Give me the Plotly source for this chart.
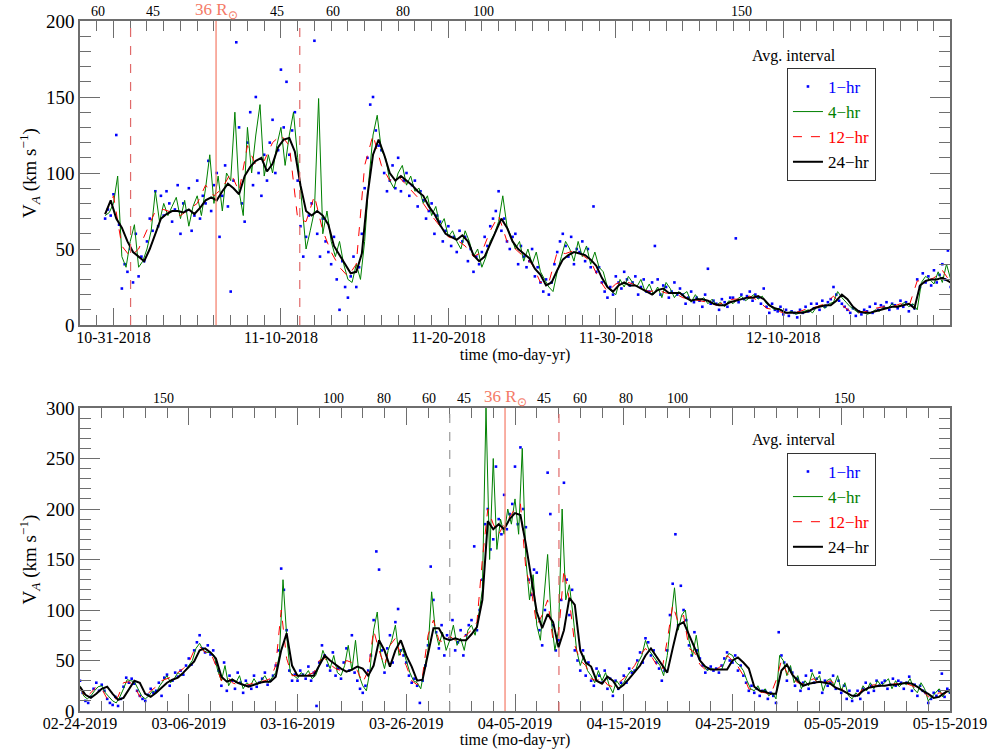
import pandas as pd
import plotly.graph_objects as go
from plotly.subplots import make_subplots

# ---------------- data: top panel (Oct-Dec 2018) ----------------
TOP_START = "2018-10-30 12:00"
TOP_1HR_STEP, TOP_4HR_STEP, TOP_12HR_STEP, TOP_24HR_STEP = 4, 6, 12, 8

top_1hr = [
    70, 76, 72,
    86, 125, 66, 24, 40, 35,
    50, 28, 60, 32, 45, 42,
    55, 70, 62, 88, 65, 85,
    72, 88, 80, 68, 76, 92,
    60, 80, 75, 90, 62, 72,
    95, 70, 85, 80, 108, 75,
    92, 100, 58, 85, 105, 78,
    22, 95, 186, 130, 80, 68,
    120, 140, 92, 150, 100, 85,
    112, 95, 120, 135, 100, 115,
    168, 130, 160, 112, 128, 140,
    95, 65, 45, 58, 72, 80,
    187, 60, 45, 70, 55, 48,
    40, 58, 30, 10, 42, 25,
    18, 32, 45, 25, 38, 60,
    90, 110, 145, 150, 128, 118,
    115, 100, 88, 95, 105, 90,
    110, 88, 95, 100, 85, 92,
    95, 78, 88, 82, 70, 75,
    80, 60, 72, 68, 55, 62,
    65, 52, 58, 48, 62, 55,
    58, 42, 50, 35, 45, 40,
    48, 58, 52, 65, 70, 75,
    88, 62, 70, 55, 50, 58,
    60, 40, 52, 45, 38, 42,
    50, 32, 38, 28, 22, 30,
    20, 28, 40, 48, 55, 60,
    52, 45, 58, 40, 50, 48,
    55, 42, 50, 38, 78, 35,
    38, 28, 22, 18, 25, 20,
    32, 28, 24, 35, 30, 26,
    28, 32, 20, 25, 30, 22,
    22, 28, 52, 30, 20, 26,
    25, 18, 22, 28, 20, 24,
    20, 14, 18, 22, 15, 18,
    16, 12, 20, 37, 14, 16,
    14, 10, 17, 15, 12, 18,
    18, 57, 15, 20, 17, 19,
    22, 16, 20, 18, 14, 24,
    12, 8, 14, 10, 9, 12,
    7, 10, 6, 9, 8, 5,
    10, 8, 12, 9, 14, 11,
    14, 10, 16, 12, 15, 17,
    25, 20, 16, 14, 12, 10,
    8, 11, 6, 9, 7, 10,
    9, 12, 8, 14, 10, 13,
    12, 15, 10, 14, 13, 11,
    16, 12, 15, 9, 13, 11,
    30, 25, 34, 28, 32, 26,
    36, 28, 33, 40, 30, 49,
    25,
]

top_4hr = [
    72, 74,
    80, 98, 45, 38,
    55, 66, 38, 42,
    50, 62, 88, 68,
    80, 72, 78, 84,
    70, 82, 65, 78,
    85, 72, 90, 112,
    80, 98, 75, 100,
    95, 140, 88, 72,
    130, 100, 125, 145,
    98, 112, 100, 118,
    130, 105, 125, 140,
    110, 80, 50, 62,
    75, 149, 60, 75,
    55, 45, 55, 40,
    30, 28, 40, 30,
    55, 95, 125, 138,
    115, 110, 95, 90,
    100, 105, 92, 98,
    88, 90, 80, 85,
    72, 78, 65, 70,
    58, 62, 55, 50,
    62, 55, 45, 50,
    38, 45, 55, 60,
    68, 85, 65, 58,
    50, 55, 42, 50,
    40, 48, 35, 30,
    25, 22, 35, 45,
    55, 50, 42, 55,
    45, 52, 40, 48,
    38, 35, 25, 22,
    20, 30, 25, 32,
    28, 25, 30, 22,
    27, 20, 25, 18,
    28, 24, 18, 22,
    20, 22, 15, 20,
    16, 18, 14, 17,
    13, 15, 12, 16,
    14, 17, 19, 16,
    18, 20, 17, 19,
    14, 12, 10, 11,
    9, 8, 9, 7,
    8, 9, 10, 8,
    12, 13, 11, 14,
    15, 22, 18, 15,
    12, 10, 8, 9,
    7, 8, 10, 9,
    12, 11, 14, 12,
    13, 15, 12, 14,
    10, 28, 32, 30,
    27, 35, 28, 40,
    30,
]

top_12hr = [
    73,
    85, 52, 45, 50, 62, 75, 76, 74, 72, 76, 80, 92, 85, 90, 100, 88,
    118, 105, 108, 120, 125, 118, 70, 68, 85, 62, 48, 38, 32, 40,
    105, 125, 105, 95, 98, 92, 86, 80, 72, 65, 58, 56, 52, 45, 48, 62,
    72, 55, 50, 45, 40, 28, 28, 48, 47, 49, 46, 42, 30, 22, 27, 29,
    27, 24, 22, 23, 21, 21, 18, 17, 16, 15, 13, 15, 17, 17, 19, 16,
    11, 10, 8, 8, 9, 11, 12, 14, 19, 13, 9, 8, 9, 11, 12, 12,
    14, 12, 29, 29, 31, 36,
    28,
]

top_24hr = [
    73, 82, 70, 64, 55, 48, 45, 42, 50, 60,
    70, 73, 75, 75, 74, 76, 73, 77, 82, 84,
    82, 88, 93, 90, 86, 98, 104, 108, 110, 101,
    106, 117, 122, 123, 114, 92, 75, 72, 75, 72,
    66, 52, 46, 40, 34, 35, 47, 85, 112, 122,
    112, 100, 95, 98, 95, 92, 88, 85, 78, 73,
    66, 60, 58, 56, 59, 55, 46, 42, 45, 53,
    61, 70, 64, 55, 50, 47, 44, 37, 33, 26,
    28, 36, 43, 46, 48, 47, 46, 43, 39, 31,
    25, 22, 26, 28, 26, 26, 24, 22, 20, 23,
    24, 21, 21, 21, 18, 16, 17, 17, 16, 14,
    13, 13, 15, 16, 17, 18, 18, 19, 17, 13,
    11, 10, 8, 8, 8, 8, 9, 11, 12, 13,
    13, 16, 20, 17, 12, 9, 8, 8, 9, 10,
    11, 12, 12, 13, 14, 11, 26, 29, 30, 30,
    31, 29, 27,
]

# ---------------- data: bottom panel (Feb-May 2019) ----------------
BOT_START = "2019-02-24 00:00"
BOT_1HR_STEP, BOT_4HR_STEP, BOT_12HR_STEP, BOT_24HR_STEP = 6, 8, 12, 12

bot_1hr = [
    30, 18, 10, 8, 14, 22, 28, 20, 26, 20, 12, 8, 6, 14, 5, 12, 24, 33, 28, 32,
    27, 20, 15, 12, 10, 16, 22, 18, 20, 28, 15, 33, 36, 25, 30, 38, 34, 40, 36, 45,
    52, 46, 60, 68, 75, 62, 58, 65, 56, 60, 48, 40, 25, 48, 20, 35, 30, 22, 38, 28,
    18, 30, 25, 22, 35, 24, 28, 32, 38, 26, 30, 35, 45, 60, 141, 120, 80, 40, 30, 36,
    30, 40, 36, 32, 44, 30, 38, 5, 48, 65, 55, 45, 40, 58, 35, 42, 32, 48, 62, 40,
    75, 38, 30, 22, 18, 25, 40, 55, 90, 158, 140, 60, 38, 62, 75, 48, 88, 101, 60, 55,
    48, 35, 28, 32, 25, 8, 30, 45, 65, 143, 110, 78, 62, 85, 55, 75, 72, 90, 60, 68,
    80, 55, 75, 85, 90, 163, 80, 100, 130, 185, 200, 160, 170, 242, 190, 175,
    214, 180, 195, 205, 242, 185, 261, 200, 182, 130, 115, 140, 137, 80, 65, 100,
    236, 195, 85, 60, 70, 110, 226, 130, 95, 120, 60, 50, 40, 60, 35, 48,
    30, 25, 42, 35, 28, 40, 22, 32, 15, 30, 22, 28, 35, 28, 42, 38, 40, 50, 58, 48,
    72, 68, 55, 60, 48, 42, 30, 40, 60, 95, 126, 175, 85, 124, 100, 90, 65, 55, 78, 60,
    52, 45, 38, 42, 44, 40, 42, 38, 45, 52, 58, 50, 48, 55, 40, 45, 35, 28, 20, 25,
    18, 22, 15, 20, 20, 12, 18, 15, 8, 78, 55, 48, 30, 42, 38, 25,
    32, 20, 28, 35, 22, 40, 28, 32, 38, 18, 30, 25, 28, 35, 22, 30, 18, 25, 12, 20,
    10, 15, 20, 12, 22, 28, 18, 25, 20, 30, 25, 28, 30, 22, 26, 32, 25, 30, 28, 22,
    28, 34, 20, 26, 15, 25, 20, 18, 8, 12, 18, 15, 20, 37, 14, 22,
    18,
]

bot_4hr = [
    25, 15, 12, 15, 20, 24, 25, 18, 14, 10, 8, 14, 22, 31, 30,
    29, 22, 15, 12, 15, 20, 18, 25, 30, 35, 28, 32, 38, 35, 40,
    45, 50, 62, 67, 60, 58, 58, 55, 40, 30, 45, 25, 32, 28, 35,
    22, 28, 25, 32, 26, 30, 35, 28, 33, 38, 55, 130, 75, 38, 35,
    32, 38, 35, 40, 32, 35, 45, 60, 50, 42, 55, 38, 35, 45, 65,
    40, 70, 35, 25, 20, 40, 80, 98, 55, 42, 60, 70, 85, 55, 62,
    50, 38, 30, 28, 22, 40, 60, 118, 80, 65, 78, 60, 70, 85, 65,
    72, 60, 80, 85, 75, 95, 120, 300, 150, 250, 160, 190, 175, 200, 185,
    210, 175, 260, 150, 110, 135, 85, 70, 110, 155, 90, 60, 80, 200, 110,
    125, 95, 60, 45, 55, 40, 35, 28, 40, 30, 38, 25, 18, 30, 25,
    28, 35, 40, 38, 48, 55, 70, 60, 55, 50, 45, 35, 55, 90, 122,
    80, 95, 100, 70, 55, 75, 50, 45, 40, 42, 41, 41, 41, 50, 57,
    55, 48, 45, 40, 30, 22, 20, 25, 18, 22, 15, 18, 12, 55, 50,
    35, 45, 28, 35, 22, 30, 25, 38, 30, 35, 20, 30, 32, 25, 35,
    20, 28, 15, 12, 18, 15, 25, 20, 28, 22, 30, 25, 28, 32, 22,
    30, 24, 28, 26, 32, 22, 18, 28, 22, 10, 14, 18, 22, 14, 20,
    18,
]

bot_12hr = [
    24, 13, 18, 24, 22, 12, 10, 14, 28, 29,
    25, 14, 14, 20, 24, 30, 32, 34, 38, 42, 48, 60, 64, 58, 58, 45, 30, 35, 28, 26,
    25, 26, 28, 29, 30, 32, 45, 100, 52, 35, 35, 36, 36, 38, 50, 52, 46, 42, 40, 50,
    48, 40, 28, 40, 80, 60, 45, 65, 72, 55, 45, 30, 26, 35, 75, 90, 70, 68, 74, 70,
    72, 75,
    80, 88, 150, 200, 185, 175, 185, 192, 200, 205, 140, 120, 85, 95, 110, 70, 75, 140,
    110, 65, 50, 45, 32, 30, 33, 26, 24, 28, 32, 38, 45, 55, 62, 55, 46, 40, 70, 105,
    88, 95, 62, 58, 46, 41, 41, 41, 45, 55, 50, 44, 35, 22, 20, 19, 18, 16, 30, 50,
    38, 32,
    28, 27, 30, 32, 26, 28, 30, 26, 22, 18, 15, 16, 22, 24, 26, 25, 27, 26, 27, 28,
    27, 25, 22, 20, 14, 15, 18, 17,
    20,
]

bot_24hr = [
    24, 16, 13, 17, 22, 24, 17, 11, 13, 22,
    30, 28, 17, 14, 18, 23, 28, 31, 33, 38,
    43, 49, 60, 62, 58, 52, 34, 29, 31, 28,
    26, 24, 26, 28, 29, 29, 34, 60, 77, 45,
    35, 35, 35, 35, 45, 55, 50, 46, 42, 39,
    41, 44, 42, 35, 45, 70, 60, 44, 60, 70,
    55, 44, 30, 31, 55, 82, 82, 72, 70, 72,
    70, 70, 76, 83, 110, 188, 180, 185, 180, 190,
    196, 194, 165, 130, 98, 82, 96, 88, 63, 80,
    112, 105, 60, 48, 44, 30, 27, 34, 30, 22,
    26, 32, 38, 45, 55, 62, 54, 46, 38, 62,
    85, 88, 76, 63, 50, 44, 41, 41, 41, 41,
    50, 53, 48, 42, 24, 20, 19, 17, 17, 40,
    46, 36, 30, 25, 27, 28, 29, 28, 27, 23,
    21, 18, 15, 15, 20, 23, 24, 25, 25, 26,
    26, 27, 28, 27, 24, 20, 17, 13, 14, 18,
    21,
]

# distance (R_sun) labels on the upper axes
top_dist_text = ["60", "45", "36", "45", "60", "80", "100", "150"]
top_dist_time = ["2018-10-30 02:00", "2018-11-02 08:00", "2018-11-06 03:00", "2018-11-09 19:00",
                 "2018-11-13 03:00", "2018-11-17 07:00", "2018-11-22 03:00", "2018-12-07 12:00"]
bot_dist_text = ["150", "100", "80", "60", "45", "36", "45", "60", "80", "100", "150"]
bot_dist_time = ["2019-03-03 17:00", "2019-03-19 07:00", "2019-03-23 23:00", "2019-03-28 02:00",
                 "2019-03-31 07:00", "2019-04-04 02:00", "2019-04-07 16:00", "2019-04-11 00:00",
                 "2019-04-15 05:00", "2019-04-19 22:00", "2019-05-05 08:00"]

# vertical markers: (time, kind)
top_markers = [("2018-11-01 00:30", "dash_red"), ("2018-11-06 03:00", "peri"), ("2018-11-11 03:00", "dash_red")]
bot_markers = [("2019-03-30 00:00", "dash_gray"), ("2019-04-04 02:00", "peri"), ("2019-04-09 01:00", "dash_red")]

TOP_RANGE = ["2018-10-29 00:00", "2018-12-19 23:00"]
BOT_RANGE = ["2019-02-24 00:00", "2019-05-15 00:00"]

# ---------------- figure ----------------
FONT = "Liberation Serif"
PERI_COLOR = "#f47a66"
AX_COLOR = "#6e6e6e"


def times(start, n, hours):
    return pd.date_range(start, periods=n, freq=f"{hours}h")


fig = make_subplots(rows=2, cols=1, vertical_spacing=0.12)
fig.update_layout(yaxis=dict(domain=[0.5594, 1.0]), yaxis2=dict(domain=[0.0, 0.4391]))

names = [
    "<span style='color:#0000ff'>1\u2212hr</span>",
    "<span style='color:#008000'>4\u2212hr</span>",
    "<span style='color:#ff0000'>12\u2212hr</span>",
    "<span style='color:#000000'>24\u2212hr</span>",
]

panels = [
    (1, "legend", TOP_START, [(top_1hr, TOP_1HR_STEP), (top_4hr, TOP_4HR_STEP),
                              (top_12hr, TOP_12HR_STEP), (top_24hr, TOP_24HR_STEP)]),
    (2, "legend2", BOT_START, [(bot_1hr, BOT_1HR_STEP), (bot_4hr, BOT_4HR_STEP),
                               (bot_12hr, BOT_12HR_STEP), (bot_24hr, BOT_24HR_STEP)]),
]

for row, leg, start, series in panels:
    (v1, s1), (v4, s4), (v12, s12), (v24, s24) = series
    fig.add_trace(go.Scatter(x=times(start, len(v1), s1), y=v1, mode="markers",
                             marker=dict(color="#0000ff", size=2.6, symbol="square"),
                             name=names[0], legend=leg), row=row, col=1)
    fig.add_trace(go.Scatter(x=times(start, len(v4), s4), y=v4, mode="lines",
                             line=dict(color="#008000", width=1),
                             name=names[1], legend=leg), row=row, col=1)
    fig.add_trace(go.Scatter(x=times(start, len(v12), s12), y=v12, mode="lines",
                             line=dict(color="#ff0000", width=1, dash="dash"),
                             name=names[2], legend=leg), row=row, col=1)
    fig.add_trace(go.Scatter(x=times(start, len(v24), s24), y=v24, mode="lines",
                             line=dict(color="#000000", width=2),
                             name=names[3], legend=leg), row=row, col=1)

# vertical marker lines
for xref, yref, markers in [("x", "y domain", top_markers), ("x2", "y2 domain", bot_markers)]:
    for t, kind in markers:
        if kind == "peri":
            ln = dict(color=PERI_COLOR, width=1.2)
        elif kind == "dash_red":
            ln = dict(color="#e06a6a", width=1.2, dash="dash")
        else:
            ln = dict(color="#9a9a9a", width=1.2, dash="dash")
        fig.add_shape(type="line", xref=xref, yref=yref, x0=t, x1=t, y0=0, y1=1, line=ln)

# distance labels along the top of each panel
for xref, yref, texts, ts in [("x", "y domain", top_dist_text, top_dist_time),
                               ("x2", "y2 domain", bot_dist_text, bot_dist_time)]:
    for txt, t in zip(texts, ts):
        if txt == "36":
            fig.add_annotation(x=t, y=1, xref=xref, yref=yref, yanchor="bottom", yshift=-3,
                               text="36 R<sub>\u2299</sub>", showarrow=False,
                               font=dict(family=FONT, size=17, color=PERI_COLOR))
        else:
            fig.add_annotation(x=t, y=1, xref=xref, yref=yref, yanchor="bottom", yshift=0,
                               text=txt, showarrow=False,
                               font=dict(family=FONT, size=14, color="black"))

# legend headers
for yv in [0.934, 0.377]:
    fig.add_annotation(x=0.871, y=yv, xref="paper", yref="paper", text="Avg. interval",
                       showarrow=False, yanchor="bottom", font=dict(family=FONT, size=16, color="black"))

axis_common = dict(showline=True, linecolor=AX_COLOR, linewidth=1.5, mirror="ticks",
                   ticks="inside", tickcolor=AX_COLOR, showgrid=False, zeroline=False,
                   automargin=False)

fig.update_xaxes(**axis_common, row=1, col=1, type="date", range=TOP_RANGE,
                 tick0="2018-10-31", dtick=10 * 86400000, ticklen=17, tickwidth=1.3,
                 minor=dict(dtick=86400000, ticklen=10, ticks="inside", tickcolor=AX_COLOR, showgrid=False),
                 tickformat="%m-%d-%Y", tickfont=dict(family=FONT, size=16, color="black"),
                 ticklabelstandoff=-3,
                 title=dict(text="time (mo-day-yr)", font=dict(family=FONT, size=16, color="black"), standoff=0))
fig.update_xaxes(**axis_common, row=2, col=1, type="date", range=BOT_RANGE,
                 tick0="2019-02-24", dtick=10 * 86400000, ticklen=17, tickwidth=1.3,
                 minor=dict(dtick=2 * 86400000, ticklen=10, ticks="inside", tickcolor=AX_COLOR, showgrid=False),
                 tickformat="%m-%d-%Y", tickfont=dict(family=FONT, size=16, color="black"),
                 ticklabelstandoff=-3,
                 title=dict(text="time (mo-day-yr)", font=dict(family=FONT, size=16, color="black"), standoff=0))

ytitle = "V<sub><i>A</i></sub> (km s<sup>\u22121</sup>)"
fig.update_yaxes(**axis_common, row=1, col=1, range=[0, 200], dtick=50, ticklen=20, tickwidth=1.3,
                 minor=dict(dtick=10, ticklen=11, ticks="inside", tickcolor=AX_COLOR),
                 tickfont=dict(family=FONT, size=19, color="black"),
                 title=dict(text=ytitle, font=dict(family=FONT, size=19, color="black"), standoff=4))
fig.update_yaxes(**axis_common, row=2, col=1, range=[0, 300], dtick=50, ticklen=20, tickwidth=1.3,
                 minor=dict(dtick=10, ticklen=11, ticks="inside", tickcolor=AX_COLOR),
                 tickfont=dict(family=FONT, size=19, color="black"),
                 title=dict(text=ytitle, font=dict(family=FONT, size=19, color="black"), standoff=4))

legend_common = dict(xanchor="left", yanchor="top", bgcolor="white", bordercolor="#333333", borderwidth=1,
                     font=dict(family=FONT, size=17, color="black"), itemwidth=30, tracegroupgap=0)
fig.update_layout(
    width=990, height=749,
    margin=dict(l=80, r=40, t=21, b=38, autoexpand=False),
    paper_bgcolor="white", plot_bgcolor="white",
    font=dict(family=FONT, color="black"),
    legend=dict(x=0.8126, y=0.932, **legend_common),
    legend2=dict(x=0.8126, y=0.374, **legend_common),
)

fig.write_html("out.html", config={"displayModeBar": False},
               post_script="document.body.style.margin='0';document.body.style.overflow='hidden';")
